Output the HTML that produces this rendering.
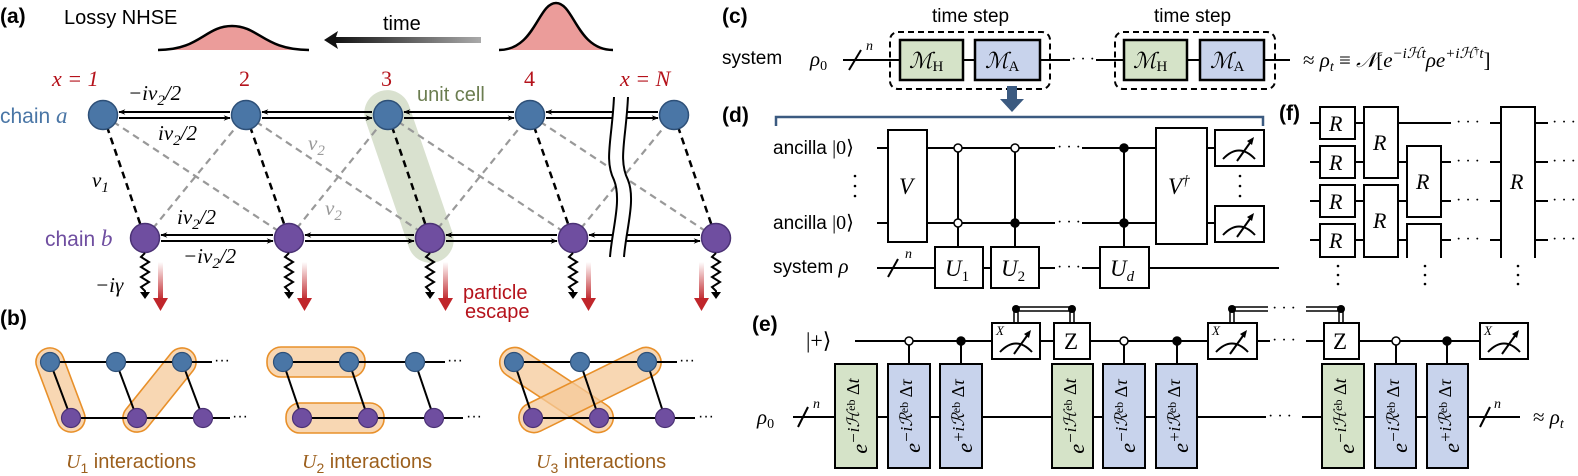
<!DOCTYPE html>
<html><head><meta charset="utf-8"><style>
html,body{margin:0;padding:0;background:#fff;}
svg{display:block;}
.s{font-family:"Liberation Sans",sans-serif;}
.m{font-family:"Liberation Serif",serif;font-style:italic;}
.r{font-family:"Liberation Serif",serif;}
.b{font-family:"Liberation Sans",sans-serif;font-weight:bold;font-size:21px;}
</style></head><body>
<svg width="1578" height="476" viewBox="0 0 1578 476" xmlns="http://www.w3.org/2000/svg">
<defs>
<marker id="ah" viewBox="0 0 10 10" refX="9" refY="5" markerWidth="7" markerHeight="7" orient="auto-start-reverse" markerUnits="userSpaceOnUse"><path d="M0,1 L10,5 L0,9 L3,5 z" fill="#000"/></marker>
<linearGradient id="tg" x1="0" x2="1" y1="0" y2="0"><stop offset="0" stop-color="#111"/><stop offset="1" stop-color="#aaa"/></linearGradient>
<linearGradient id="rg" x1="0" x2="0" y1="0" y2="1"><stop offset="0" stop-color="#c0262b" stop-opacity="0"/><stop offset="1" stop-color="#c0262b"/></linearGradient>
<g id="meter"><path d="M8,29 Q24,12 40,29" fill="none" stroke="#000" stroke-width="2"/><path d="M22,31 L37,10" stroke="#000" stroke-width="2"/><path d="M39,7 L32,11 L37,15 z" fill="#000"/></g>
</defs>

<!-- ===== Panel (a) ===== -->
<text x="0" y="23" class="b">(a)</text>
<text x="64" y="24" class="s" font-size="20">Lossy NHSE</text>
<path d="M158,50 C200,50 205,26 232,26 C259,26 264,50 309,50 Z" fill="#eb9c9a"/>
<path d="M158,50 C200,50 205,26 232,26 C259,26 264,50 309,50" fill="none" stroke="#000" stroke-width="2.5"/>
<path d="M499,50 C535,50 538,3 556,3 C574,3 577,50 613,50 Z" fill="#eb9c9a"/>
<path d="M499,50 C535,50 538,3 556,3 C574,3 577,50 613,50" fill="none" stroke="#000" stroke-width="2.5"/>
<rect x="334" y="37" width="147" height="6" fill="url(#tg)"/>
<path d="M324,40 L338,31 L335,40 L338,49 z" fill="#111"/>
<text x="383" y="30" class="s" font-size="20">time</text>

<g class="m" font-size="22" fill="#b5121b">
<text x="52" y="86">x = 1</text>
<text x="239" y="86" class="r" font-style="normal">2</text>
<text x="381" y="86" class="r" font-style="normal">3</text>
<text x="524" y="86" class="r" font-style="normal">4</text>
<text x="620" y="86">x = N</text>
</g>

<rect x="319" y="153.5" width="180" height="46" rx="23" fill="#c9d4bb" opacity="0.7" transform="rotate(71.1 409 176.5)"/>
<text x="417" y="101" class="s" font-size="20" fill="#6b7d50">unit cell</text>

<g stroke="#999" stroke-width="2.2" stroke-dasharray="7,5">
<line x1="103" y1="115" x2="289" y2="238"/><line x1="145" y1="238" x2="246" y2="115"/>
<line x1="246" y1="115" x2="430" y2="238"/><line x1="289" y1="238" x2="388" y2="115"/>
<line x1="388" y1="115" x2="573" y2="238"/><line x1="430" y1="238" x2="530" y2="115"/>
<line x1="530" y1="115" x2="716" y2="238"/><line x1="573" y1="238" x2="674" y2="115"/>
</g>
<g stroke="#000" stroke-width="2.5" stroke-dasharray="7,5">
<line x1="103" y1="115" x2="145" y2="238"/><line x1="246" y1="115" x2="289" y2="238"/>
<line x1="388" y1="115" x2="430" y2="238"/><line x1="530" y1="115" x2="573" y2="238"/>
<line x1="674" y1="115" x2="716" y2="238"/>
</g>
<g stroke="#000" stroke-width="2">
<line x1="119" y1="112" x2="230" y2="112" marker-start="url(#ah)"/><line x1="119" y1="118" x2="230" y2="118" marker-end="url(#ah)"/>
<line x1="262" y1="112" x2="372" y2="112" marker-start="url(#ah)"/><line x1="262" y1="118" x2="372" y2="118" marker-end="url(#ah)"/>
<line x1="404" y1="112" x2="514" y2="112" marker-start="url(#ah)"/><line x1="404" y1="118" x2="514" y2="118" marker-end="url(#ah)"/>
<line x1="546" y1="112" x2="658" y2="112" marker-start="url(#ah)"/><line x1="546" y1="118" x2="658" y2="118" marker-end="url(#ah)"/>
<line x1="161" y1="235" x2="273" y2="235" marker-start="url(#ah)"/><line x1="161" y1="241" x2="273" y2="241" marker-end="url(#ah)"/>
<line x1="305" y1="235" x2="414" y2="235" marker-start="url(#ah)"/><line x1="305" y1="241" x2="414" y2="241" marker-end="url(#ah)"/>
<line x1="446" y1="235" x2="557" y2="235" marker-start="url(#ah)"/><line x1="446" y1="241" x2="557" y2="241" marker-end="url(#ah)"/>
<line x1="589" y1="235" x2="700" y2="235" marker-start="url(#ah)"/><line x1="589" y1="241" x2="700" y2="241" marker-end="url(#ah)"/>
</g>
<path d="M614,97 C612,140 604,160 614,180 C622,200 612,230 610,257 L624,257 C626,230 636,200 628,180 C618,160 626,140 628,97 Z" fill="#fff"/>
<path d="M614,97 C612,140 604,160 614,180 C622,200 612,230 610,257" fill="none" stroke="#000" stroke-width="2"/>
<path d="M628,97 C626,140 618,160 628,180 C636,200 626,230 624,257" fill="none" stroke="#000" stroke-width="2"/>
<g fill="#4a76a6" stroke="#2e5078" stroke-width="1.5">
<circle cx="103" cy="115" r="14.5"/><circle cx="246" cy="115" r="14.5"/><circle cx="388" cy="115" r="14.5"/><circle cx="530" cy="115" r="14.5"/><circle cx="674" cy="115" r="14.5"/>
</g>
<g fill="#6f4ea0" stroke="#4b3275" stroke-width="1.5">
<circle cx="145" cy="238" r="14.5"/><circle cx="289" cy="238" r="14.5"/><circle cx="430" cy="238" r="14.5"/><circle cx="573" cy="238" r="14.5"/><circle cx="716" cy="238" r="14.5"/>
</g>
<g fill="none" stroke="#000" stroke-width="2">
<polyline points="145,253 141,257 149,262 141,267 149,272 141,277 149,282 141,287 145,291 145,293"/>
<polyline points="289,253 285,257 293,262 285,267 293,272 285,277 293,282 285,287 289,291 289,293"/>
<polyline points="430,253 426,257 434,262 426,267 434,272 426,277 434,282 426,287 430,291 430,293"/>
<polyline points="573,253 569,257 577,262 569,267 577,272 569,277 577,282 569,287 573,291 573,293"/>
<polyline points="716,253 712,257 720,262 712,267 720,272 712,277 720,282 712,287 716,291 716,293"/>
</g>
<g fill="#000">
<path d="M140,292 L150,292 L145,299z"/><path d="M284,292 L294,292 L289,299z"/><path d="M425,292 L435,292 L430,299z"/><path d="M568,292 L578,292 L573,299z"/><path d="M711,292 L721,292 L716,299z"/>
</g>
<g>
<rect x="158" y="262" width="5" height="38" fill="url(#rg)"/><path d="M153,298 L168,298 L160.5,311z" fill="#c0262b"/>
<rect x="302" y="262" width="5" height="38" fill="url(#rg)"/><path d="M297,298 L312,298 L304.5,311z" fill="#c0262b"/>
<rect x="443" y="262" width="5" height="38" fill="url(#rg)"/><path d="M438,298 L453,298 L445.5,311z" fill="#c0262b"/>
<rect x="586" y="262" width="5" height="38" fill="url(#rg)"/><path d="M581,298 L596,298 L588.5,311z" fill="#c0262b"/>
<rect x="699" y="262" width="5" height="38" fill="url(#rg)"/><path d="M694,298 L709,298 L701.5,311z" fill="#c0262b"/>
</g>
<text x="0" y="123" class="s" font-size="21" fill="#4a76a6">chain <tspan class="m" font-size="23">a</tspan></text>
<text x="45" y="246" class="s" font-size="21" fill="#6f4ea0">chain <tspan class="m" font-size="23">b</tspan></text>
<g class="m" font-size="21">
<text x="128" y="100">−iv<tspan font-size="15" dy="5">2</tspan><tspan dy="-5">/2</tspan></text>
<text x="158" y="140">iv<tspan font-size="15" dy="5">2</tspan><tspan dy="-5">/2</tspan></text>
<text x="177" y="224">iv<tspan font-size="15" dy="5">2</tspan><tspan dy="-5">/2</tspan></text>
<text x="183" y="263">−iv<tspan font-size="15" dy="5">2</tspan><tspan dy="-5">/2</tspan></text>
<text x="92" y="187">v<tspan font-size="15" dy="5">1</tspan></text>
<text x="308" y="150" fill="#999">v<tspan font-size="15" dy="5">2</tspan></text>
<text x="325" y="215" fill="#999">v<tspan font-size="15" dy="5">2</tspan></text>
<text x="95" y="292">−iγ</text>
</g>
<text x="463" y="299" class="s" font-size="20" fill="#b5121b">particle</text>
<text x="465" y="318" class="s" font-size="20" fill="#b5121b">escape</text>

<!-- ===== Panel (b) ===== -->
<text x="0" y="325" class="b">(b)</text>
<g fill="#f5c99a" fill-opacity="0.75" stroke="#e8902a" stroke-width="1.6">
<rect x="16.5" y="376" width="88" height="28" rx="14" transform="rotate(69.4 60.5 390)"/>
<rect x="109.5" y="376" width="100" height="28" rx="14" transform="rotate(128.8 159.5 390)"/>
<rect x="267" y="347" width="98" height="30" rx="14"/>
<rect x="286" y="403" width="98" height="30" rx="14"/>
<rect x="491.5" y="375" width="130" height="30" rx="15" transform="rotate(33.4 556.5 390)"/>
<rect x="512.5" y="375" width="155" height="30" rx="15" transform="rotate(153.8 590 390)"/>
</g>
<g stroke="#000" stroke-width="2">
<line x1="50" y1="362" x2="212" y2="362"/><line x1="71" y1="418" x2="230" y2="418"/>
<line x1="50" y1="362" x2="71" y2="418"/><line x1="116" y1="362" x2="137" y2="418"/><line x1="182" y1="362" x2="203" y2="418"/>
<line x1="283" y1="362" x2="445" y2="362"/><line x1="302" y1="418" x2="463" y2="418"/>
<line x1="283" y1="362" x2="302" y2="418"/><line x1="349" y1="362" x2="368" y2="418"/><line x1="415" y1="362" x2="434" y2="418"/>
<line x1="514" y1="362" x2="677" y2="362"/><line x1="533" y1="418" x2="695" y2="418"/>
<line x1="514" y1="362" x2="533" y2="418"/><line x1="580" y1="362" x2="599" y2="418"/><line x1="647" y1="362" x2="665" y2="418"/>
</g>
<g fill="#4a76a6" stroke="#2e5078" stroke-width="1.2">
<circle cx="50" cy="362" r="9.5"/><circle cx="116" cy="362" r="9.5"/><circle cx="182" cy="362" r="9.5"/>
<circle cx="283" cy="362" r="9.5"/><circle cx="349" cy="362" r="9.5"/><circle cx="415" cy="362" r="9.5"/>
<circle cx="514" cy="362" r="9.5"/><circle cx="580" cy="362" r="9.5"/><circle cx="647" cy="362" r="9.5"/>
</g>
<g fill="#6f4ea0" stroke="#4b3275" stroke-width="1.2">
<circle cx="71" cy="418" r="9.5"/><circle cx="137" cy="418" r="9.5"/><circle cx="203" cy="418" r="9.5"/>
<circle cx="302" cy="418" r="9.5"/><circle cx="368" cy="418" r="9.5"/><circle cx="434" cy="418" r="9.5"/>
<circle cx="533" cy="418" r="9.5"/><circle cx="599" cy="418" r="9.5"/><circle cx="665" cy="418" r="9.5"/>
</g>
<g class="s" font-size="16">
<text x="214" y="365">···</text><text x="232" y="421">···</text>
<text x="447" y="365">···</text><text x="466" y="421">···</text>
<text x="679" y="365">···</text><text x="698" y="421">···</text>
</g>
<g class="s" font-size="20" fill="#9c5f1c">
<text x="66" y="468"><tspan class="m">U</tspan><tspan font-size="14" dy="5">1</tspan><tspan dy="-5"> interactions</tspan></text>
<text x="302" y="468"><tspan class="m">U</tspan><tspan font-size="14" dy="5">2</tspan><tspan dy="-5"> interactions</tspan></text>
<text x="536" y="468"><tspan class="m">U</tspan><tspan font-size="14" dy="5">3</tspan><tspan dy="-5"> interactions</tspan></text>
</g>

<!-- ===== Panel (c) ===== -->
<text x="722" y="23" class="b">(c)</text>
<text x="722" y="64" class="s" font-size="19">system</text>
<text x="810" y="66" class="m" font-size="21">ρ<tspan class="r" font-style="normal" font-size="14" dy="4">0</tspan></text>
<g stroke="#000" stroke-width="2">
<line x1="843" y1="60" x2="1070" y2="60"/><line x1="1096" y1="60" x2="1290" y2="60"/>
<line x1="849" y1="70" x2="861" y2="50"/>
</g>
<text x="866" y="50" class="m" font-size="14">n</text>
<g fill="none" stroke="#000" stroke-width="2" stroke-dasharray="6,4">
<rect x="890" y="32" width="160" height="57" rx="8"/><rect x="1115" y="32" width="160" height="57" rx="8"/>
</g>
<g stroke="#000" stroke-width="2.5">
<rect x="900" y="40" width="63" height="40" fill="#d5e3c8"/><rect x="975" y="40" width="65" height="40" fill="#c8d3ec"/>
<rect x="1124" y="40" width="63" height="40" fill="#d5e3c8"/><rect x="1200" y="40" width="64" height="40" fill="#c8d3ec"/>
</g>
<g class="r" font-size="22">
<text x="909" y="68"><tspan class="m">ℳ</tspan><tspan font-size="15" dy="3">H</tspan></text>
<text x="985" y="68"><tspan class="m">ℳ</tspan><tspan font-size="15" dy="3">A</tspan></text>
<text x="1133" y="68"><tspan class="m">ℳ</tspan><tspan font-size="15" dy="3">H</tspan></text>
<text x="1210" y="68"><tspan class="m">ℳ</tspan><tspan font-size="15" dy="3">A</tspan></text>
</g>
<text x="1071" y="64" class="r" font-size="16">· · ·</text>
<text x="932" y="22" class="s" font-size="19">time step</text>
<text x="1154" y="22" class="s" font-size="19">time step</text>
<text x="1303" y="67" class="r" font-size="21">≈ <tspan class="m">ρ</tspan><tspan class="m" font-size="14" dy="4">t</tspan><tspan dy="-4"> ≡ </tspan><tspan class="m">𝒩</tspan>[<tspan class="m">e</tspan><tspan class="m" font-size="15" dy="-9">−iℋt</tspan><tspan class="m" dy="9">ρe</tspan><tspan class="m" font-size="15" dy="-9">+iℋ</tspan><tspan font-size="10" dy="-4">†</tspan><tspan class="m" font-size="15" dy="4">t</tspan><tspan dy="9">]</tspan></text>
<rect x="1007" y="86" width="10" height="14" fill="#3b5a80"/><path d="M1000,99 L1024,99 L1012,112z" fill="#3b5a80"/>
<path d="M776,126 L776,117 L1263,117 L1263,126" fill="none" stroke="#3b5a80" stroke-width="2.5"/>

<!-- ===== Panel (d) ===== -->
<text x="722" y="122" class="b">(d)</text>
<text x="773" y="154" class="s" font-size="19">ancilla <tspan class="r" font-size="20">|0⟩</tspan></text>
<text x="773" y="229" class="s" font-size="19">ancilla <tspan class="r" font-size="20">|0⟩</tspan></text>
<text x="773" y="273" class="s" font-size="19">system <tspan class="m" font-size="21">ρ</tspan></text>
<g fill="#000"><circle cx="855" cy="176" r="1.3"/><circle cx="855" cy="186" r="1.3"/><circle cx="855" cy="196" r="1.3"/>
<circle cx="1240" cy="176" r="1.3"/><circle cx="1240" cy="186" r="1.3"/><circle cx="1240" cy="196" r="1.3"/></g>
<g stroke="#000" stroke-width="2">
<line x1="877" y1="148" x2="1055" y2="148"/><line x1="1082" y1="148" x2="1215" y2="148"/>
<line x1="877" y1="223" x2="1055" y2="223"/><line x1="1082" y1="223" x2="1215" y2="223"/>
<line x1="877" y1="268" x2="1055" y2="268"/><line x1="1082" y1="268" x2="1279" y2="268"/>
<line x1="888" y1="277" x2="898" y2="259"/>
<line x1="958" y1="148" x2="958" y2="247"/><line x1="1015" y1="148" x2="1015" y2="247"/><line x1="1124" y1="148" x2="1124" y2="247"/>
</g>
<text x="905" y="258" class="m" font-size="14">n</text>
<g stroke="#000" stroke-width="2" fill="#fff">
<rect x="888" y="130" width="39" height="112"/>
<rect x="935" y="247" width="48" height="41"/><rect x="991" y="247" width="48" height="41"/><rect x="1100" y="247" width="49" height="41"/>
<rect x="1156" y="128" width="51" height="116"/>
<rect x="1215" y="130" width="49" height="36"/><rect x="1215" y="206" width="49" height="36"/>
</g>
<use href="#meter" x="1215" y="130"/><use href="#meter" x="1215" y="206"/>
<g stroke="#000" stroke-width="1.5">
<circle cx="958" cy="148" r="4" fill="#fff"/><circle cx="958" cy="223" r="4" fill="#fff"/>
<circle cx="1015" cy="148" r="4" fill="#fff"/><circle cx="1015" cy="223" r="4" fill="#000"/>
<circle cx="1124" cy="148" r="4" fill="#000"/><circle cx="1124" cy="223" r="4" fill="#000"/>
</g>
<g class="r" font-size="16"><text x="1057" y="152">· · ·</text><text x="1057" y="227">· · ·</text><text x="1057" y="272">· · ·</text></g>
<g class="m" font-size="23">
<text x="899" y="194">V</text><text x="1168" y="194">V<tspan class="r" font-size="15" dy="-9">†</tspan></text>
<text x="945" y="276">U<tspan class="r" font-style="normal" font-size="15" dy="5">1</tspan></text>
<text x="1001" y="276">U<tspan class="r" font-style="normal" font-size="15" dy="5">2</tspan></text>
<text x="1110" y="276">U<tspan font-size="15" dy="5">d</tspan></text>
</g>

<!-- ===== Panel (f) ===== -->
<text x="1279" y="120" class="b">(f)</text>
<g stroke="#000" stroke-width="2">
<line x1="1310" y1="123" x2="1451" y2="123"/><line x1="1490" y1="123" x2="1501" y2="123"/><line x1="1535" y1="123" x2="1548" y2="123"/>
<line x1="1310" y1="162" x2="1451" y2="162"/><line x1="1490" y1="162" x2="1501" y2="162"/><line x1="1535" y1="162" x2="1548" y2="162"/>
<line x1="1310" y1="201" x2="1451" y2="201"/><line x1="1490" y1="201" x2="1501" y2="201"/><line x1="1535" y1="201" x2="1548" y2="201"/>
<line x1="1310" y1="240" x2="1451" y2="240"/><line x1="1490" y1="240" x2="1501" y2="240"/><line x1="1535" y1="240" x2="1548" y2="240"/>
</g>
<g stroke="#000" stroke-width="2" fill="#fff">
<rect x="1320" y="107" width="35" height="32"/><rect x="1320" y="146" width="35" height="32"/><rect x="1320" y="185" width="35" height="32"/><rect x="1320" y="224" width="35" height="33"/>
<rect x="1364" y="107" width="34" height="71"/><rect x="1364" y="185" width="34" height="72"/>
<rect x="1407" y="146" width="34" height="71"/>
<path d="M1407,258 L1407,224 L1441,224 L1441,258"/>
<path d="M1501,258 L1501,107 L1535,107 L1535,258"/>
</g>
<g class="r" font-size="16">
<text x="1456" y="127">· · ·</text><text x="1456" y="166">· · ·</text><text x="1456" y="205">· · ·</text><text x="1456" y="244">· · ·</text>
<text x="1552" y="127">· · ·</text><text x="1552" y="166">· · ·</text><text x="1552" y="205">· · ·</text><text x="1552" y="244">· · ·</text>
</g>
<g class="m" font-size="22">
<text x="1329" y="131">R</text><text x="1329" y="170">R</text><text x="1329" y="209">R</text><text x="1329" y="248">R</text>
<text x="1373" y="150">R</text><text x="1373" y="228">R</text><text x="1416" y="189">R</text><text x="1510" y="189">R</text>
</g>
<g fill="#000">
<circle cx="1338" cy="266" r="1.3"/><circle cx="1338" cy="275" r="1.3"/><circle cx="1338" cy="284" r="1.3"/>
<circle cx="1425" cy="266" r="1.3"/><circle cx="1425" cy="275" r="1.3"/><circle cx="1425" cy="284" r="1.3"/>
<circle cx="1518" cy="266" r="1.3"/><circle cx="1518" cy="275" r="1.3"/><circle cx="1518" cy="284" r="1.3"/>
</g>

<!-- ===== Panel (e) ===== -->
<text x="752" y="331" class="b">(e)</text>
<text x="806" y="348" class="r" font-size="22">|+⟩</text>
<text x="757" y="424" class="m" font-size="21">ρ<tspan class="r" font-style="normal" font-size="14" dy="4">0</tspan></text>
<g stroke="#000" stroke-width="2">
<line x1="855" y1="341" x2="1270" y2="341"/><line x1="1306" y1="341" x2="1480" y2="341"/>
<line x1="793" y1="417" x2="1266" y2="417"/><line x1="1302" y1="417" x2="1520" y2="417"/>
<line x1="798" y1="427" x2="808" y2="407"/><line x1="1480" y1="427" x2="1490" y2="407"/>
<line x1="909" y1="341" x2="909" y2="364"/><line x1="961" y1="341" x2="961" y2="364"/>
<line x1="1124" y1="341" x2="1124" y2="364"/><line x1="1177" y1="341" x2="1177" y2="364"/>
<line x1="1396" y1="341" x2="1396" y2="364"/><line x1="1447" y1="341" x2="1447" y2="364"/>
</g>
<text x="813" y="408" class="m" font-size="14">n</text>
<text x="1494" y="408" class="m" font-size="14">n</text>
<text x="1533" y="424" class="r" font-size="21">≈ <tspan class="m">ρ</tspan><tspan class="m" font-size="14" dy="4">t</tspan></text>
<g class="r" font-size="16"><text x="1272" y="345">· · ·</text><text x="1268" y="421">· · ·</text><text x="1272" y="313">· · ·</text></g>
<g stroke="#000" stroke-width="1.5" fill="none">
<path d="M1014,323 L1014,307 L1074,307 L1074,323"/><path d="M1018,323 L1018,311 L1070,311 L1070,323"/>
<path d="M1230,323 L1230,307 L1268,307"/><path d="M1234,323 L1234,311 L1268,311"/>
<path d="M1306,307 L1343,307 L1343,323"/><path d="M1306,311 L1339,311 L1339,323"/>
</g>
<g fill="#000"><circle cx="1016" cy="309" r="4"/><circle cx="1072" cy="309" r="4"/><circle cx="1232" cy="309" r="4"/><circle cx="1341" cy="309" r="4"/></g>
<g stroke="#000" stroke-width="2" fill="#fff">
<rect x="992" y="323" width="48" height="36"/><rect x="1054" y="323" width="36" height="36"/>
<rect x="1208" y="323" width="49" height="36"/><rect x="1324" y="323" width="35" height="36"/>
<rect x="1480" y="323" width="48" height="36"/>
</g>
<use href="#meter" x="992" y="323"/><use href="#meter" x="1208" y="323"/><use href="#meter" x="1480" y="323"/>
<g class="m" font-size="13"><text x="996" y="335">X</text><text x="1212" y="335">X</text><text x="1484" y="335">X</text></g>
<g class="r" font-size="23"><text x="1064" y="349">Z</text><text x="1333" y="349">Z</text></g>
<g stroke="#000" stroke-width="1.5">
<circle cx="909" cy="341" r="4" fill="#fff"/><circle cx="961" cy="341" r="4" fill="#000"/>
<circle cx="1124" cy="341" r="4" fill="#fff"/><circle cx="1177" cy="341" r="4" fill="#000"/>
<circle cx="1396" cy="341" r="4" fill="#fff"/><circle cx="1447" cy="341" r="4" fill="#000"/>
</g>
<g stroke="#000" stroke-width="2">
<rect x="835" y="364" width="42" height="104" fill="#d5e3c8"/><rect x="888" y="364" width="42" height="104" fill="#c8d3ec"/><rect x="940" y="364" width="42" height="104" fill="#c8d3ec"/>
<rect x="1052" y="364" width="41" height="104" fill="#d5e3c8"/><rect x="1103" y="364" width="42" height="104" fill="#c8d3ec"/><rect x="1156" y="364" width="41" height="104" fill="#c8d3ec"/>
<rect x="1322" y="364" width="42" height="104" fill="#d5e3c8"/><rect x="1375" y="364" width="41" height="104" fill="#c8d3ec"/><rect x="1427" y="364" width="41" height="104" fill="#c8d3ec"/>
</g>
<g class="m" font-size="22" text-anchor="middle">
<text transform="translate(867 416) rotate(-90)">e<tspan font-size="17" dy="-8">−iℋ</tspan><tspan font-size="12" class="r" font-style="normal" dy="-4">eb</tspan><tspan font-size="18" class="r" font-style="normal" dy="4"> Δ</tspan><tspan font-size="18">t</tspan></text>
<text transform="translate(920 416) rotate(-90)">e<tspan font-size="17" dy="-8">−iℛ</tspan><tspan font-size="12" class="r" font-style="normal" dy="-4">eb</tspan><tspan font-size="18" class="r" font-style="normal" dy="4"> Δ</tspan><tspan font-size="18">τ</tspan></text>
<text transform="translate(972 416) rotate(-90)">e<tspan font-size="17" dy="-8">+iℛ</tspan><tspan font-size="12" class="r" font-style="normal" dy="-4">eb</tspan><tspan font-size="18" class="r" font-style="normal" dy="4"> Δ</tspan><tspan font-size="18">τ</tspan></text>
<text transform="translate(1084 416) rotate(-90)">e<tspan font-size="17" dy="-8">−iℋ</tspan><tspan font-size="12" class="r" font-style="normal" dy="-4">eb</tspan><tspan font-size="18" class="r" font-style="normal" dy="4"> Δ</tspan><tspan font-size="18">t</tspan></text>
<text transform="translate(1135 416) rotate(-90)">e<tspan font-size="17" dy="-8">−iℛ</tspan><tspan font-size="12" class="r" font-style="normal" dy="-4">eb</tspan><tspan font-size="18" class="r" font-style="normal" dy="4"> Δ</tspan><tspan font-size="18">τ</tspan></text>
<text transform="translate(1188 416) rotate(-90)">e<tspan font-size="17" dy="-8">+iℛ</tspan><tspan font-size="12" class="r" font-style="normal" dy="-4">eb</tspan><tspan font-size="18" class="r" font-style="normal" dy="4"> Δ</tspan><tspan font-size="18">τ</tspan></text>
<text transform="translate(1354 416) rotate(-90)">e<tspan font-size="17" dy="-8">−iℋ</tspan><tspan font-size="12" class="r" font-style="normal" dy="-4">eb</tspan><tspan font-size="18" class="r" font-style="normal" dy="4"> Δ</tspan><tspan font-size="18">t</tspan></text>
<text transform="translate(1407 416) rotate(-90)">e<tspan font-size="17" dy="-8">−iℛ</tspan><tspan font-size="12" class="r" font-style="normal" dy="-4">eb</tspan><tspan font-size="18" class="r" font-style="normal" dy="4"> Δ</tspan><tspan font-size="18">τ</tspan></text>
<text transform="translate(1459 416) rotate(-90)">e<tspan font-size="17" dy="-8">+iℛ</tspan><tspan font-size="12" class="r" font-style="normal" dy="-4">eb</tspan><tspan font-size="18" class="r" font-style="normal" dy="4"> Δ</tspan><tspan font-size="18">τ</tspan></text>
</g>
</svg>
</body></html>
